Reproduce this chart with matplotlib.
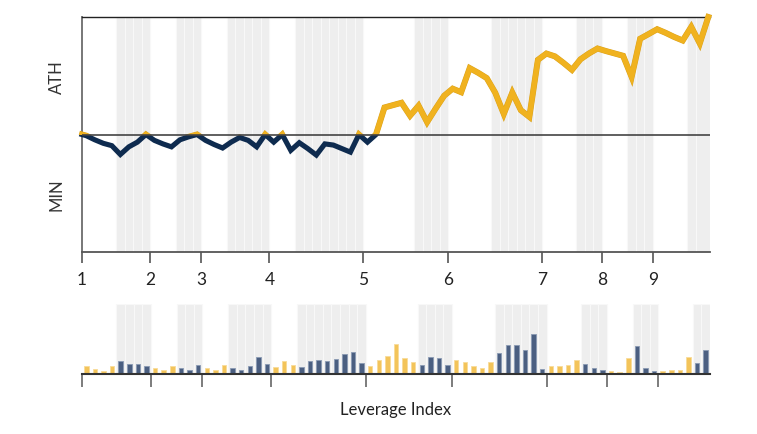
import numpy as np
import matplotlib
matplotlib.use("Agg")
import matplotlib.pyplot as plt
import matplotlib.patheffects as pe
from matplotlib.patches import Rectangle

plt.rcParams['font.family'] = ['Lato', 'DejaVu Sans']

# value relative to ATH (0 = at ATH line), one point per period
line_y = [-0.01, -0.045, -0.075, -0.095, -0.17, -0.105, -0.065, 0.0, -0.05, -0.08,
          -0.105, -0.045, -0.02, 0.0, -0.05, -0.085, -0.115, -0.065, -0.025, -0.05,
          -0.105, 0.0, -0.065, 0.0, -0.135, -0.07, -0.12, -0.175, -0.08, -0.09,
          -0.12, -0.15, 0.0, -0.065, 0.0, 0.23, 0.25, 0.27, 0.16, 0.245,
          0.105, 0.22, 0.33, 0.39, 0.36, 0.565, 0.525, 0.48, 0.355, 0.175,
          0.357, 0.207, 0.15, 0.635, 0.689, 0.665, 0.61, 0.55, 0.64, 0.69,
          0.732, 0.71, 0.69, 0.67, 0.49, 0.815, 0.855, 0.896, 0.865, 0.83,
          0.8, 0.916, 0.775, 1.0]

# per-period bars
volume = [7.7, 5.3, 3.3, 7.7, 12.7, 10, 10, 8, 6, 4,
          8, 6, 4, 9, 6.3, 4, 9, 6.2, 4, 8,
          16.7, 9.7, 6.7, 12.7, 9.3, 6.7, 13, 13.7, 13, 15,
          19.7, 21.7, 10.7, 7.7, 14, 18, 29.7, 16, 12, 8.7,
          17, 15.7, 8.7, 14, 12, 8, 5.7, 12.3, 21.3, 29,
          28.7, 23.7, 40, 5.3, 8.3, 7.7, 9.3, 14, 9.7, 5.7,
          4.3, 3, 2, 15.7, 28, 5.7, 2.7, 3, 3.7, 4,
          16.7, 11, 23.7]

down = [4, 5, 6, 7, 11, 12, 13, 17, 18, 19, 20, 21,
        25, 26, 27, 28, 29, 30, 31, 32, 39, 40, 41, 42,
        48, 49, 50, 51, 52, 53, 58, 59, 60, 64, 65, 66, 71, 72]

tick_pos = [0, 8, 14, 22, 33, 43, 54, 61, 67]
tick_labels = ['1', '2', '3', '4', '5', '6', '7', '8', '9']

navy = '#0e2b4f'
gold = '#f0b21f'
shade = '#eeeeee'

fig = plt.figure(figsize=(7.57, 4.35), dpi=100)
ax = fig.add_axes([82/757, 1-253/435, 628/757, 235/435])
ax2 = fig.add_axes([82/757, 1-375/435, 628/757, 70/435])

n = len(volume)
xl = np.r_[0, np.arange(len(line_y)) + 0.5]
yl = np.r_[0, line_y]
top_end = 73.7

for i in down:
    right = top_end if i == n - 1 else i + 1
    ax.axvspan(i, right, facecolor=shade, edgecolor='#f8f8f8', lw=0.8, zorder=0)
    ax2.axvspan(i, i + 1, facecolor=shade, edgecolor='#f8f8f8', lw=0.8, zorder=0)

ax.axhline(0, color='#444444', lw=1.2, zorder=4)
g, = ax.plot(xl, yl, color=gold, lw=3.7, solid_joinstyle='miter', zorder=3,
             path_effects=[pe.Stroke(linewidth=4.3, foreground='#d9a11e'), pe.Normal()])
g.set_clip_path(Rectangle((-1, 0), 80, 3, transform=ax.transData))
b, = ax.plot(xl, yl, color=navy, lw=3.7, solid_joinstyle='miter', zorder=3)
b.set_clip_path(Rectangle((-1, -3), 80, 3, transform=ax.transData))

ax.set_xlim(0, top_end)
ax.set_ylim(-1, 1)
ax.set_yticks([])
ax.set_xticks(tick_pos)
ax.set_xticklabels(tick_labels, fontsize=12.5, color='#222222')
ax.tick_params(axis='x', length=8, width=1.2, color='#555555', pad=6)
ax.spines['right'].set_visible(False)
ax.spines['top'].set_color('#222222')
ax.spines['top'].set_linewidth(1.0)
ax.spines['left'].set_color('#777777')
ax.spines['left'].set_linewidth(1.4)
ax.spines['bottom'].set_color('#555555')
ax.spines['bottom'].set_linewidth(1.3)
ax.text(-0.04, 0.75, 'ATH', transform=ax.transAxes, rotation=90, ha='center', va='center',
        fontsize=12, color='#333333')
ax.text(-0.04, 0.25, 'MIN', transform=ax.transAxes, rotation=90, ha='center', va='center',
        fontsize=12, color='#333333')

colors = [('#4b5f81' if i in down else '#f3c45a') for i in range(n)]
edges = [('#8a9ab3' if i in down else '#f8dc9a') for i in range(n)]
ax2.bar(np.arange(n) + 0.5, volume, width=0.52, color=colors, edgecolor=edges, lw=0.6, zorder=2)
ax2.set_xlim(0, 73)
ax2.set_ylim(0, 70)
ax2.set_yticks([])
ax2.set_xticks(tick_pos)
ax2.set_xticklabels([])
ax2.tick_params(axis='x', length=9, width=1.2, color='#666666')
for s in ('top', 'right', 'left'):
    ax2.spines[s].set_visible(False)
ax2.spines['bottom'].set_color('#333333')
ax2.spines['bottom'].set_linewidth(1.5)
ax2.set_xlabel('Leverage Index', fontsize=12, color='#222222', labelpad=7)

fig.savefig('out.png', dpi=100)
